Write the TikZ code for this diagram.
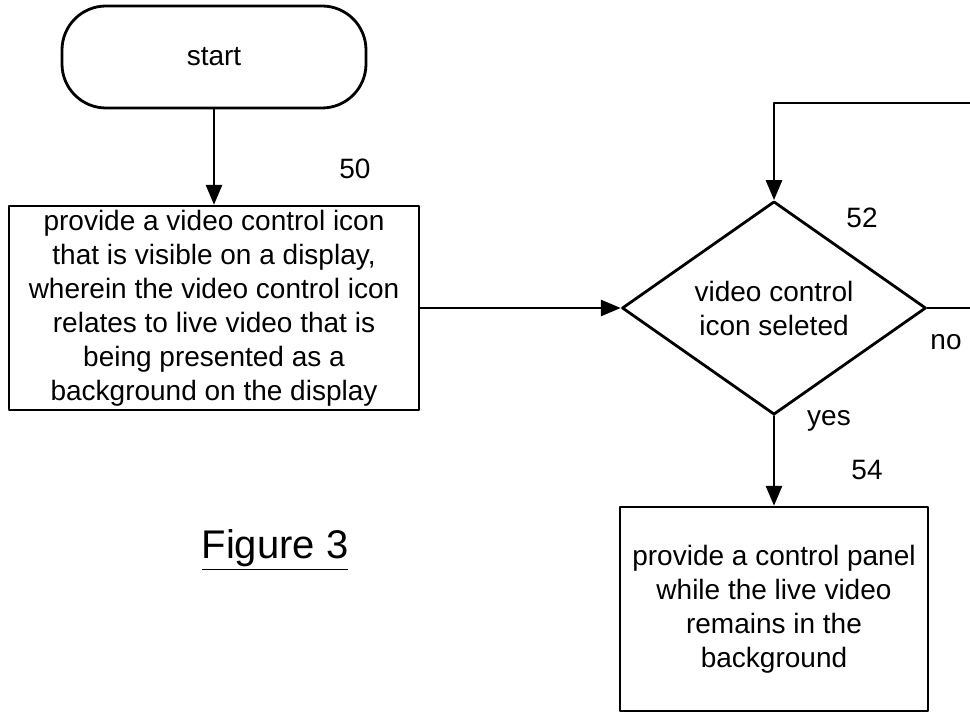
\documentclass[tikz,border=0pt]{standalone}
\usepackage{fontspec}
\setmainfont{Liberation Sans}
\usepackage{tikz}
\usetikzlibrary{arrows}
\usetikzlibrary{shapes.geometric}

\begin{document}
\begin{tikzpicture}[line cap=round,line join=round,>=triangle 45,x=0.5pt,y=0.5pt,
  every node/.style={font=\fontsize{14}{17}\selectfont},
  terminal/.style={draw,line width=1.4pt,rounded corners=22pt,minimum width=152pt,minimum height=51pt},
  procbox/.style={draw,line width=1.4pt,align=center,inner sep=0pt},
  decision/.style={draw,diamond,line width=1.4pt,align=center,inner sep=0pt,minimum width=152pt,minimum height=100pt},
  conn/.style={->,line width=1.3pt}]
\useasboundingbox (0,0) rectangle (970,713);
\node[terminal] (start) at (214,656) {start};
\node[procbox,minimum width=205pt,minimum height=102pt] (icon) at (214,405) {provide a video control icon\\that is visible on a display,\\wherein the video control icon\\relates to live video that is\\being presented as a\\background on the display};
\node[decision] (sel) at (774,405) {video control\\icon seleted};
\node[procbox,minimum width=154pt,minimum height=102pt] (panel) at (774,104) {provide a control panel\\while the live video\\remains in the\\background};
\coordinate (loop) at (978,610);
\draw[conn] (start) -- (icon);
\draw[conn] (icon) -- (sel);
\draw[conn] (sel.east) -| (loop) -| (sel.north);
\draw[conn] (sel) -- (panel);
\node (n50) at (355,544) {50};
\node (n52) at (862,495) {52};
\node (no) at (946,371) {no};
\node (yes) at (829,292) {yes};
\node (n54) at (867,243) {54};
\node[font=\fontsize{20}{24}\selectfont] (fig) at (275,163) {\underline{Figure 3}};
\end{tikzpicture}
\end{document}
